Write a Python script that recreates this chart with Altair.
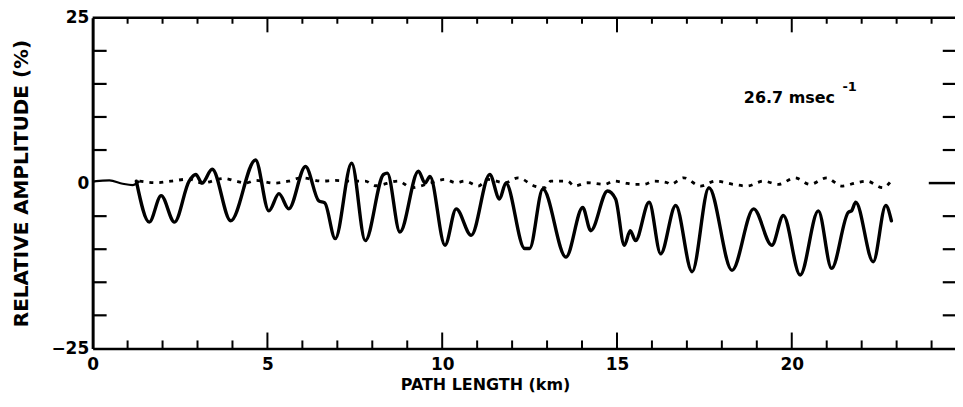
import altair as alt
import pandas as pd

# ---- data ----
solid_x = [1.25, 1.62, 1.96, 2.34, 2.76, 2.95, 3.13, 3.42, 3.95, 4.66, 5.04, 5.33, 5.61, 6.09,
           6.47, 6.64, 6.94, 7.41, 7.80, 8.32, 8.43, 8.79, 9.32, 9.51, 9.65, 10.08, 10.40, 10.83,
           11.36, 11.64, 11.82, 12.36, 12.50, 12.88, 13.54, 14.02, 14.25, 14.73, 14.96, 15.21,
           15.38, 15.53, 15.92, 16.25, 16.68, 17.15, 17.63, 18.29, 18.91, 19.43, 19.76, 20.24,
           20.76, 21.14, 21.62, 21.71, 21.83, 22.33, 22.69, 22.85]
solid_y = [0.3, -5.9, -1.9, -5.9, 0.3, 1.3, 0.0, 2.1, -5.7, 3.5, -4.2, -1.6, -3.9, 2.5,
           -2.7, -3.0, -8.4, 3.0, -8.7, 1.3, 1.5, -7.4, 1.8, 0.0, 1.0, -9.4, -3.9, -7.9,
           1.3, -2.4, 0.0, -9.9, -9.9, -0.9, -11.2, -3.7, -7.2, -1.2, -2.4, -9.4,
           -7.2, -8.7, -2.9, -10.7, -3.4, -13.4, -0.7, -13.2, -3.9, -9.4, -4.9, -13.9,
           -4.2, -12.9, -4.4, -4.2, -2.9, -11.9, -3.4, -5.7]

lead_x = [0.0, 0.1, 0.48, 0.86, 1.14, 1.34]
lead_y = [0.2, 0.3, 0.4, -0.1, -0.3, 0.3]

dot_x = [1.34, 1.81, 2.24, 2.76, 3.13, 3.76, 4.09, 4.38, 4.66, 5.19, 5.61, 5.98, 6.55, 6.94,
         7.41, 7.80, 8.08, 8.75, 9.12, 9.69, 10.08, 10.40, 10.65, 11.03, 11.31, 11.79, 12.17,
         12.64, 12.93, 13.11, 13.59, 13.78, 14.16, 14.64, 14.92, 15.21, 15.49, 15.77, 16.06,
         16.44, 16.53, 16.91, 17.39, 17.82, 18.34, 18.72, 19.19, 19.62, 20.09, 20.52, 21.0,
         21.42, 21.85, 22.14, 22.61, 22.85]
dot_y = [0.3, 0.05, 0.3, 0.6, 0.0, 0.7, 0.3, 0.0, 0.4, 0.0, 0.3, 0.8, 0.3, 0.4,
         0.3, 0.3, -0.4, 0.3, -0.7, 0.05, 0.55, 0.05, 0.3, -0.45, 0.55, 0.05, 0.8,
         -0.45, -0.7, 0.3, 0.3, -0.45, 0.05, -0.2, 0.3, 0.05, -0.2, -0.2, 0.3,
         0.05, -0.2, 0.8, -0.45, 0.3, -0.2, -0.45, 0.3, -0.2, 0.8, -0.2, 0.8,
         -0.45, 0.05, 0.3, -0.7, 0.4]

x_labels = [0, 5, 10, 15, 20]
y_labels = [-25, 0, 25]
km_ticks = list(range(1, 25))
major_km = [5, 10, 15, 20]
minor_km = [k for k in km_ticks if k not in major_km]
amp_ticks = [-20, -15, -10, -5, 5, 10, 15, 20]

annotation = "26.7  msec"
annotation_sup = "-1"
x_title = "PATH LENGTH (km)"
y_title = "RELATIVE AMPLITUDE (%)"

XMAX = 24.67
FONT = "DejaVu Sans"

XS = alt.Scale(domain=[0, XMAX], nice=False, zero=False)
YS = alt.Scale(domain=[-25, 25], nice=False, zero=False)
XA = alt.Axis(values=x_labels, ticks=False, grid=False, domainColor="black", domainWidth=2.5,
              labelFont=FONT, labelFontWeight="bold", labelFontSize=17, labelColor="black",
              labelPadding=8, title=x_title, titleFont=FONT, titleFontWeight="bold",
              titleFontSize=16, titleColor="black", titlePadding=4, labelFlush=False,
              titleX=394, titleAlign="center", titleAnchor="start")
YA = alt.Axis(values=y_labels, ticks=False, grid=False, domainColor="black", domainWidth=3,
              labelFont=FONT, labelFontWeight="bold", labelFontSize=17, labelColor="black",
              labelPadding=4, title=y_title, titleFont=FONT, titleFontWeight="bold",
              titleFontSize=20, titleColor="black", titlePadding=20, labelFlush=False)

solid_df = pd.DataFrame({"x": solid_x, "y": solid_y})
lead_df = pd.DataFrame({"x": lead_x, "y": lead_y})
dot_df = pd.DataFrame({"x": dot_x, "y": dot_y})
one = pd.DataFrame({"a": [0]})


def X(f="x"):
    return alt.X(f"{f}:Q", scale=XS, axis=XA)


def Y(f="y"):
    return alt.Y(f"{f}:Q", scale=YS, axis=YA)


solid = alt.Chart(solid_df).mark_line(color="black", strokeWidth=3.4, interpolate="monotone",
                                      strokeCap="round", strokeJoin="round").encode(x=X(), y=Y(), order="x:Q")
lead = alt.Chart(lead_df).mark_line(color="black", strokeWidth=2.2, interpolate="monotone").encode(
    x=X(), y=Y(), order="x:Q")
dots = alt.Chart(dot_df).mark_line(color="black", strokeWidth=2.8, strokeDash=[4, 6],
                                   interpolate="monotone").encode(x=X(), y=Y(), order="x:Q")

# frame ticks (inward), drawn through the scales
bot_minor = alt.Chart(pd.DataFrame({"k": minor_km})).mark_rule(color="black", strokeWidth=2).encode(
    x=X("k"), y=alt.YDatum(-25, scale=YS, axis=YA), y2=alt.Y2Datum(-23.8))
bot_major = alt.Chart(pd.DataFrame({"k": major_km})).mark_rule(color="black", strokeWidth=2).encode(
    x=X("k"), y=alt.YDatum(-25, scale=YS, axis=YA), y2=alt.Y2Datum(-22.6))
top_minor = alt.Chart(pd.DataFrame({"k": minor_km})).mark_rule(color="black", strokeWidth=2).encode(
    x=X("k"), y=alt.YDatum(25, scale=YS, axis=YA), y2=alt.Y2Datum(24.1))
top_major = alt.Chart(pd.DataFrame({"k": major_km})).mark_rule(color="black", strokeWidth=2).encode(
    x=X("k"), y=alt.YDatum(25, scale=YS, axis=YA), y2=alt.Y2Datum(22.8))
top_line = alt.Chart(one).mark_rule(color="black", strokeWidth=2.5).encode(
    x=alt.XDatum(0, scale=XS, axis=XA), x2=alt.X2Datum(XMAX), y=alt.YDatum(25, scale=YS, axis=YA))
left_t = alt.Chart(pd.DataFrame({"v": amp_ticks})).mark_rule(color="black", strokeWidth=2.2).encode(
    y=Y("v"), x=alt.XDatum(0, scale=XS, axis=XA), x2=alt.X2Datum(0.4))
right_t = alt.Chart(pd.DataFrame({"v": amp_ticks})).mark_rule(color="black", strokeWidth=2.2).encode(
    y=Y("v"), x=alt.XDatum(XMAX, scale=XS, axis=XA), x2=alt.X2Datum(XMAX - 0.35))
right_zero = alt.Chart(one).mark_rule(color="black", strokeWidth=2.5).encode(
    y=alt.YDatum(0, scale=YS, axis=YA), x=alt.XDatum(XMAX, scale=XS, axis=XA), x2=alt.X2Datum(XMAX - 0.75))

txt = alt.Chart(one).mark_text(font=FONT, fontWeight="bold", fontSize=16, align="left",
                               baseline="middle", color="black").encode(
    x=alt.XDatum(18.63, scale=XS, axis=XA), y=alt.YDatum(12.9, scale=YS, axis=YA),
    text=alt.value(annotation))
sup = alt.Chart(one).mark_text(font=FONT, fontWeight="bold", fontSize=13, align="left",
                               baseline="middle", color="black").encode(
    x=alt.XDatum(21.45, scale=XS, axis=XA), y=alt.YDatum(14.6, scale=YS, axis=YA),
    text=alt.value(annotation_sup))

chart = alt.layer(
    solid, lead, dots, bot_minor, bot_major, top_minor, top_major, top_line,
    left_t, right_t, right_zero, txt, sup
).properties(
    width=866, height=332,
    autosize=alt.AutoSizeParams(type="none"),
    padding={"left": 85, "top": 9, "right": 0, "bottom": 50},
).configure_view(stroke=None).configure(background="white")

chart.save("out.html", embed_options={"renderer": "svg", "actions": False})
